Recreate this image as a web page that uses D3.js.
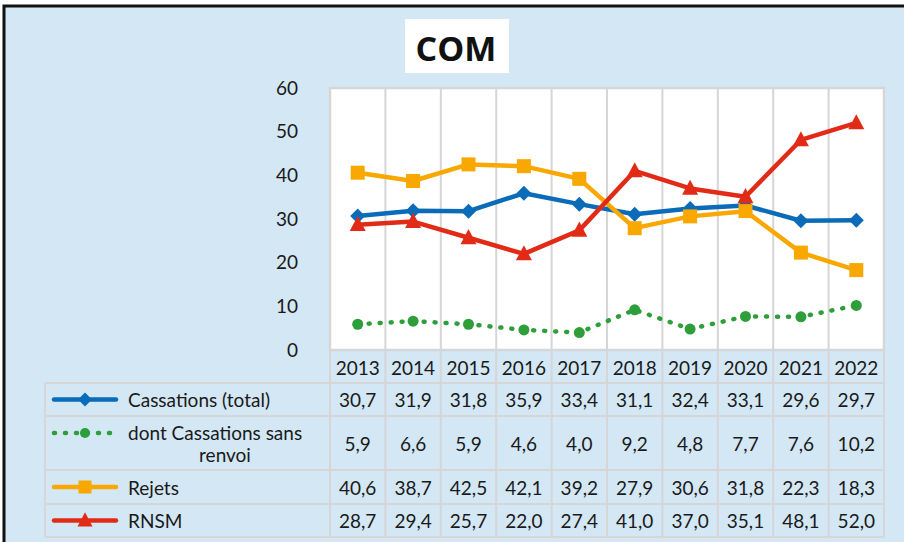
<!DOCTYPE html>
<html><head><meta charset="utf-8">
<script src="https://cdn.jsdelivr.net/npm/d3@7"></script>
<style>
html,body{margin:0;padding:0;background:#fff;}
svg{display:block;}
text{font-family:Lato,"Open Sans",sans-serif;fill:#1a1a1a;}
</style></head>
<body><svg id="c" width="904" height="542"></svg>
<script>
const title = "COM";
const years = ["2013","2014","2015","2016","2017","2018","2019","2020","2021","2022"];
const cassationsTotal = [30.7,31.9,31.8,35.9,33.4,31.1,32.4,33.1,29.6,29.7];
const cassationsSansRenvoi = [5.9,6.6,5.9,4.6,4.0,9.2,4.8,7.7,7.6,10.2];
const rejets = [40.6,38.7,42.5,42.1,39.2,27.9,30.6,31.8,22.3,18.3];
const rnsm = [28.7,29.4,25.7,22.0,27.4,41.0,37.0,35.1,48.1,52.0];
const yTicks = [0,10,20,30,40,50,60];
const seriesNames = [["Cassations (total)"],["dont Cassations sans","renvoi"],["Rejets"],["RNSM"]];

const series = [
  {name:seriesNames[0], values:cassationsTotal, color:"#0a6cb8", marker:"diamond", dash:null},
  {name:seriesNames[1], values:cassationsSansRenvoi, color:"#2d9e3a", marker:"circle", dash:"1,10"},
  {name:seriesNames[2], values:rejets, color:"#f8a800", marker:"square", dash:null},
  {name:seriesNames[3], values:rnsm, color:"#e22b17", marker:"triangle", dash:null}
];

const svg = d3.select("#c");
const W=904,H=542;
const bg="#d3e7f5", gridC="#d6d6d6";
const fmt = d3.formatLocale({decimal:",",thousands:" ",grouping:[3],currency:["","€"]}).format(".1f");
const FS="19px";

// background and outer border
svg.append("rect").attr("x",4).attr("y",6).attr("width",W+20).attr("height",H+20)
  .attr("fill",bg).attr("stroke","#111").attr("stroke-width",3);

// title
svg.append("rect").attr("x",405).attr("y",19).attr("width",104).attr("height",54).attr("fill","#fff");
svg.append("text").attr("x",456).attr("y",48).attr("text-anchor","middle").attr("dominant-baseline","central")
  .style("font-family","'Open Sans',sans-serif")
  .style("font-size","34px").style("font-weight","bold").style("fill","#111").text(title);

const x0=330,x1=884,yTop=88,yBot=350;
const x = d3.scaleBand().domain(years).range([x0,x1]).padding(0);
const y = d3.scaleLinear().domain([0,60]).range([yBot,yTop]);

// plot area
svg.append("rect").attr("x",x0).attr("y",yTop).attr("width",x1-x0).attr("height",yBot-yTop).attr("fill","#fff");
// vertical grid
svg.append("g").selectAll("line").data(years.slice(1)).join("line")
  .attr("x1",d=>x(d)).attr("x2",d=>x(d)).attr("y1",yTop).attr("y2",yBot)
  .attr("stroke",gridC).attr("stroke-width",2);
svg.append("rect").attr("x",x0).attr("y",yTop).attr("width",x1-x0).attr("height",yBot-yTop)
  .attr("fill","none").attr("stroke",gridC).attr("stroke-width",2.5);

// y axis
const ax = svg.append("g").attr("transform",`translate(${x0},0)`)
  .call(d3.axisLeft(y).tickValues(yTicks).tickSize(0).tickPadding(32).tickFormat(d3.format("d")));
ax.select(".domain").remove();
ax.selectAll("text").style("font-size",FS).style("font-family","Lato,sans-serif").attr("fill","#1a1a1a");

// lines
const cx = d=>x(d)+x.bandwidth()/2;
function drawMarker(g, type, px, py, color, s){
  if(type==="diamond"){
    g.append("path").attr("d",`M${px},${py-s/2}L${px+s/2},${py}L${px},${py+s/2}L${px-s/2},${py}Z`).attr("fill",color);
  } else if(type==="square"){
    g.append("rect").attr("x",px-s/2).attr("y",py-s/2).attr("width",s).attr("height",s).attr("fill",color);
  } else if(type==="triangle"){
    g.append("path").attr("d",`M${px},${py-s*0.55}L${px+s/2},${py+s*0.4}L${px-s/2},${py+s*0.4}Z`).attr("fill",color);
  } else {
    g.append("circle").attr("cx",px).attr("cy",py).attr("r",s/2).attr("fill",color);
  }
}
const msize = {diamond:15,square:14,triangle:16,circle:11};
const line = d3.line().x((d,i)=>cx(years[i])).y(d=>y(d));
series.forEach(s=>{
  const g = svg.append("g");
  g.append("path").attr("d",line(s.values)).attr("fill","none").attr("stroke",s.color)
    .attr("stroke-width",4.5).attr("stroke-linecap","round").attr("stroke-linejoin","round")
    .attr("stroke-dasharray",s.dash);
  s.values.forEach((v,i)=>drawMarker(g,s.marker,cx(years[i]),y(v),s.color,msize[s.marker]));
});

// table
const tblLeft=45;
const rowEdges=[350,383,416,470,504,537];
const tg = svg.append("g");
tg.selectAll("text.yr").data(years).join("text").attr("class","yr")
  .attr("x",d=>cx(d)).attr("y",(rowEdges[0]+rowEdges[1])/2+1).attr("text-anchor","middle")
  .attr("dominant-baseline","central").style("font-size",FS).text(d=>d);
const hl = [];
hl.push({x1:x0,x2:x1,y:rowEdges[0]});
for(let k=1;k<rowEdges.length;k++) hl.push({x1:tblLeft,x2:x1,y:rowEdges[k]});
tg.selectAll("line.h").data(hl).join("line").attr("class","h")
  .attr("x1",d=>d.x1).attr("x2",d=>d.x2).attr("y1",d=>d.y).attr("y2",d=>d.y)
  .attr("stroke",gridC).attr("stroke-width",2);
const vl = years.map(d=>({x:x(d),y1:rowEdges[0],y2:rowEdges[5]}));
vl.push({x:x1,y1:rowEdges[0],y2:rowEdges[5]});
vl.push({x:tblLeft,y1:rowEdges[1],y2:rowEdges[5]});
tg.selectAll("line.v").data(vl).join("line").attr("class","v")
  .attr("x1",d=>d.x).attr("x2",d=>d.x).attr("y1",d=>d.y1).attr("y2",d=>d.y2)
  .attr("stroke",gridC).attr("stroke-width",2);

series.forEach((s,r)=>{
  const ymid=(rowEdges[r+1]+rowEdges[r+2])/2;
  const g=tg.append("g");
  const ky = s.name.length>1 ? ymid-10 : ymid;
  g.append("line").attr("x1",54).attr("x2",116).attr("y1",ky).attr("y2",ky)
    .attr("stroke",s.color).attr("stroke-width",4.5).attr("stroke-linecap","round")
    .attr("stroke-dasharray",s.dash);
  drawMarker(g,s.marker,85,ky,s.color,msize[s.marker]-1);
  if(s.name.length===1){
    g.append("text").attr("x",128).attr("y",ymid).attr("dominant-baseline","central")
      .style("font-size",FS).text(s.name[0]);
  } else {
    g.append("text").attr("x",128).attr("y",ymid-11).attr("dominant-baseline","central")
      .style("font-size",FS).text(s.name[0]);
    g.append("text").attr("x",225).attr("y",ymid+11).attr("dominant-baseline","central")
      .attr("text-anchor","middle").style("font-size",FS).text(s.name[1]);
  }
  g.selectAll("text.v").data(s.values).join("text").attr("class","v")
    .attr("x",(d,i)=>cx(years[i])).attr("y",ymid).attr("text-anchor","middle")
    .attr("dominant-baseline","central").style("font-size",FS).text(d=>fmt(d));
});
</script></body></html>
